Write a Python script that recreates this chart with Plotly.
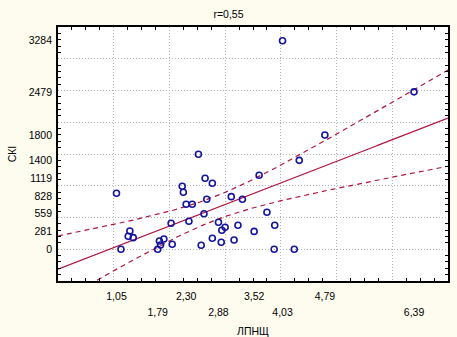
import numpy as np
import plotly.graph_objects as go

# ЛПНЩ (x) and СКІ (y) observations
lpnsh = [2.52, 2.64, 2.77, 2.23, 2.25, 1.05, 2.67, 3.11, 3.31, 3.61,
         2.30, 2.41, 2.62, 2.03, 2.35, 2.88, 3.75, 1.29, 1.26, 1.35,
         1.13, 1.79, 1.82, 1.84, 1.90, 2.05, 2.57, 2.77, 2.94, 3.00,
         2.93, 3.16, 3.23, 3.52, 3.89, 3.88, 4.24, 4.33, 4.03, 4.79,
         6.39]
ski = [1496, 1119, 1039, 992, 897, 882, 787, 828, 787, 1165,
       708, 708, 559, 409, 441, 425, 582, 288, 205, 183,
       0, 0, 131, 68, 162, 79, 63, 173, 299, 346,
       110, 146, 378, 281, 378, 0, 0, 1400, 3284, 1800,
       2479]

# tick labels (x labels are staggered over two rows)
x_labels_row1 = [1.05, 2.30, 3.52, 4.79]
x_labels_row2 = [1.79, 2.88, 4.03, 6.39]
y_labels = [0, 281, 559, 828, 1119, 1400, 1800, 2479, 3284]
r_value = 0.55

X_RANGE = [0, 7]
Y_RANGE = [-500, 3500]


def comma(v, nd=2):
    return f"{v:.{nd}f}".replace(".", ",")


# linear regression with 95% confidence band for the mean
x = np.asarray(lpnsh, dtype=float)
y = np.asarray(ski, dtype=float)
n = len(x)
xm, ym = x.mean(), y.mean()
sxx = np.sum((x - xm) ** 2)
sxy = np.sum((x - xm) * (y - ym))
slope = sxy / sxx
intercept = ym - slope * xm
resid = y - (intercept + slope * x)
s = np.sqrt(np.sum(resid ** 2) / (n - 2))
# Student t quantile (0.975) via Cornish-Fisher expansion
z = 1.959964
nu = n - 2
t = (z + (z ** 3 + z) / (4 * nu)
     + (5 * z ** 5 + 16 * z ** 3 + 3 * z) / (96 * nu ** 2)
     + (3 * z ** 7 + 19 * z ** 5 + 17 * z ** 3 - 15 * z) / (384 * nu ** 3))

xs = np.linspace(X_RANGE[0], X_RANGE[1], 300)
fit = intercept + slope * xs
half = t * s * np.sqrt(1.0 / n + (xs - xm) ** 2 / sxx)

LINE_COLOR = "#B0143C"
FONT = "Liberation Sans, Arial, sans-serif"

fig = go.Figure()
fig.add_trace(go.Scatter(x=xs, y=fit, mode="lines",
                         line=dict(color=LINE_COLOR, width=1.2),
                         hoverinfo="skip", showlegend=False))
for band in (fit + half, fit - half):
    fig.add_trace(go.Scatter(x=xs, y=band, mode="lines",
                             line=dict(color=LINE_COLOR, width=1.2, dash="5px,4px"),
                             hoverinfo="skip", showlegend=False))
fig.add_trace(go.Scatter(x=lpnsh, y=ski, mode="markers",
                         marker=dict(symbol="circle-open", size=6,
                                     color="#1414A0", line=dict(width=1.6)),
                         showlegend=False))
# empty traces so the label-only axes get drawn
for xa in ("x2", "x3"):
    fig.add_trace(go.Scatter(x=[], y=[], xaxis=xa, yaxis="y2",
                             hoverinfo="skip", showlegend=False))

frame = dict(showline=True, linecolor="black", linewidth=1.6, mirror="allticks",
             zeroline=False, showticklabels=False, ticks="", automargin=False,
             showgrid=True, gridcolor="#B4B4B4", griddash="1px,2px", gridwidth=1)

label_axis = dict(showgrid=False, zeroline=False, showline=False, ticks="",
                  automargin=False,
                  tickfont=dict(family=FONT, size=10.5, color="black"))

fig.update_layout(
    width=457, height=337,
    margin=dict(l=58, r=9, t=27, b=56),
    paper_bgcolor="#FDFCEF",
    plot_bgcolor="white",
    font=dict(family=FONT, size=10.5, color="black"),
    title=dict(text=f"r={comma(r_value)}", x=0.5, xref="container", xanchor="center",
               y=1 - 14 / 337, yref="container", yanchor="middle",
               font=dict(family=FONT, size=10.5, color="black")),
    xaxis=dict(range=X_RANGE, tick0=0, dtick=1, **frame,
               minor=dict(tick0=0, dtick=0.25, ticks="inside", ticklen=3,
                          tickcolor="black", showgrid=False)),
    yaxis=dict(range=Y_RANGE, tick0=0, dtick=500, **frame,
               minor=dict(tick0=0, dtick=100, ticks="inside", ticklen=3,
                          tickcolor="black", showgrid=False)),
    xaxis2=dict(overlaying="x", anchor="y", side="bottom", range=X_RANGE,
                tickmode="array", tickvals=x_labels_row1,
                ticktext=[comma(v) for v in x_labels_row1],
                ticklabelstandoff=7, **label_axis),
    xaxis3=dict(overlaying="x", anchor="y", side="bottom", range=X_RANGE,
                tickmode="array", tickvals=x_labels_row2,
                ticktext=[comma(v) for v in x_labels_row2],
                ticklabelstandoff=23,
                title=dict(text="ЛПНЩ", standoff=11,
                           font=dict(family=FONT, size=10.5, color="black")),
                **label_axis),
    yaxis2=dict(overlaying="y", anchor="x", side="left", range=Y_RANGE,
                tickmode="array", tickvals=y_labels,
                ticktext=[str(v) for v in y_labels],
                ticklabelstandoff=5,
                title=dict(text="СКІ", standoff=9,
                           font=dict(family=FONT, size=10.5, color="black")),
                **label_axis),
)

fig.write_html("out.html")
